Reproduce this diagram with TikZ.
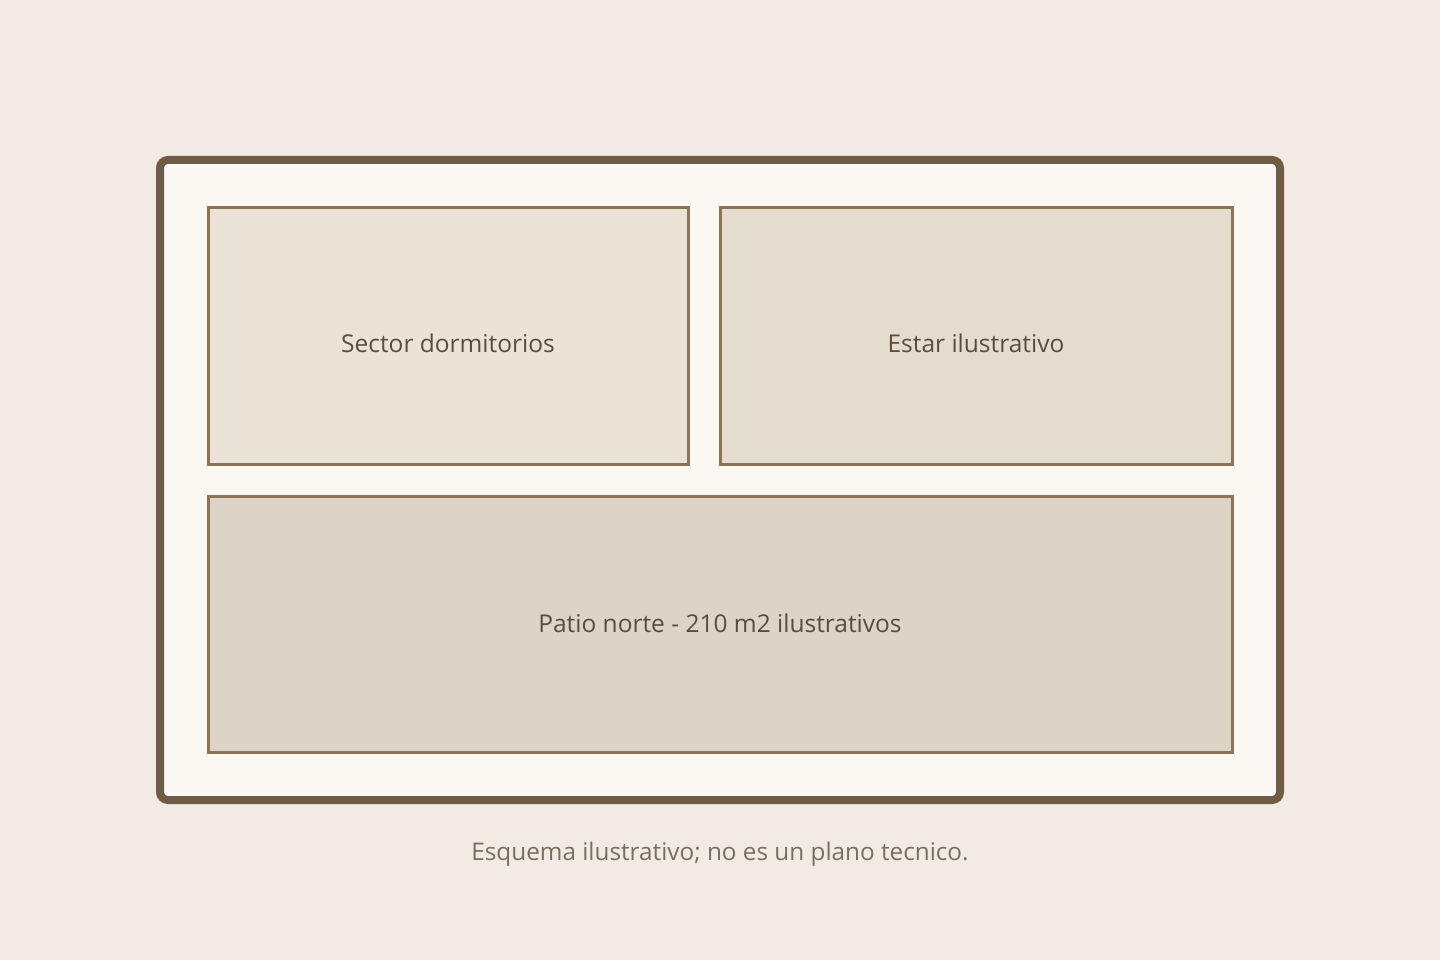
\documentclass[tikz,border=0pt]{standalone}
\usepackage{fontspec}
\setmainfont{Open Sans}
\definecolor{bg}{HTML}{F2EBE3}
\definecolor{plate}{HTML}{FBF8F3}
\definecolor{wall}{HTML}{6E5C45}
\definecolor{roomline}{HTML}{8C7358}
\definecolor{roomA}{HTML}{EBE3D8}
\definecolor{roomB}{HTML}{E5DCD0}
\definecolor{roomC}{HTML}{DDD3C6}
\definecolor{ink}{HTML}{5A4D40}
\definecolor{note}{HTML}{7A6E62}
\begin{document}
\begin{tikzpicture}[x=1pt,y=-1pt,
  room/.style={draw=roomline,line width=3pt},
  lbl/.style={text=ink,font=\fontsize{24.5}{28}\selectfont},
  captext/.style={text=note,font=\fontsize{24.3}{28}\selectfont}]
\fill[bg] (0,0) rectangle (1440,960);
\useasboundingbox (0,0) rectangle (1440,960);
\draw[wall,fill=plate,line width=8pt,rounded corners=8pt] (160,160) rectangle (1280,800);
\draw[room,fill=roomA] (208,208) rectangle (688,464);
\draw[room,fill=roomB] (720,208) rectangle (1232,464);
\draw[room,fill=roomC] (208,496) rectangle (1232,752);
\node[lbl] (a) at (448,343) {Sector dormitorios};
\node[lbl] (b) at (976,343) {Estar ilustrativo};
\node[lbl] (c) at (720,623) {Patio norte - 210 m2 ilustrativos};
\node[captext] (d) at (720,854) {Esquema ilustrativo; no es un plano tecnico.};
\end{tikzpicture}
\end{document}
